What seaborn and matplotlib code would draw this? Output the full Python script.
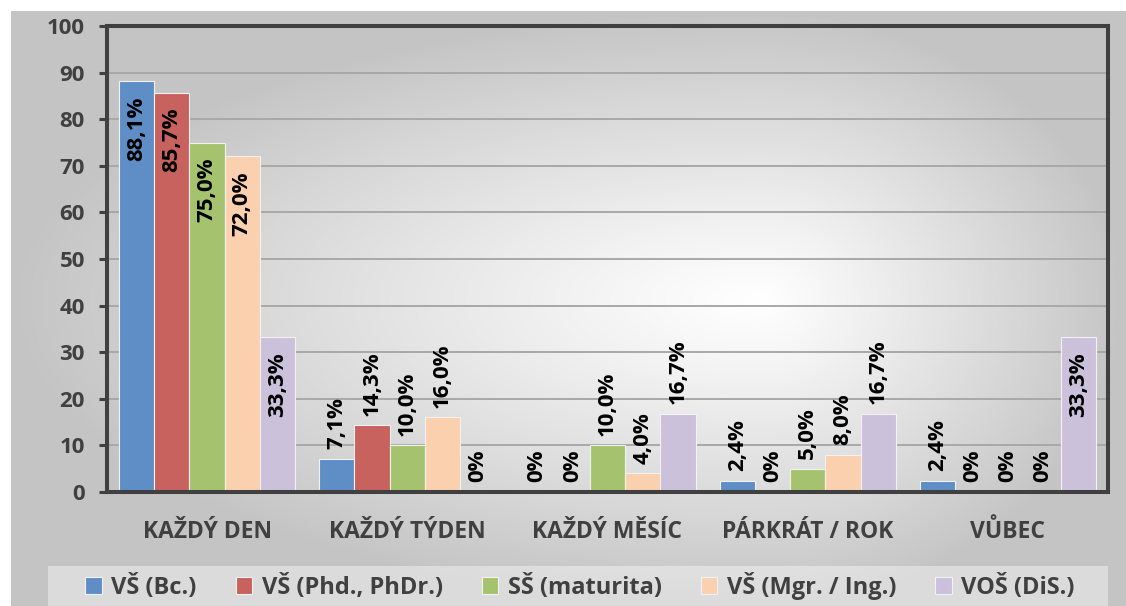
import numpy as np
import pandas as pd
import matplotlib
matplotlib.use("Agg")
import matplotlib.pyplot as plt
from matplotlib.patches import Patch, Rectangle
import seaborn as sns

categories = ["KAŽDÝ DEN", "KAŽDÝ TÝDEN", "KAŽDÝ MĚSÍC", "PÁRKRÁT / ROK", "VŮBEC"]
series = ["VŠ (Bc.)", "VŠ (Phd., PhDr.)", "SŠ (maturita)", "VŠ (Mgr. / Ing.)", "VOŠ (DiS.)"]
vs_bc = [88.1, 7.1, 0.0, 2.4, 2.4]
vs_phd = [85.7, 14.3, 0.0, 0.0, 0.0]
ss_maturita = [75.0, 10.0, 10.0, 5.0, 0.0]
vs_mgr = [72.0, 16.0, 4.0, 8.0, 0.0]
vos_dis = [33.3, 0.0, 16.7, 16.7, 33.3]
y_ticks = [0, 10, 20, 30, 40, 50, 60, 70, 80, 90, 100]
colors = ["#5F8DC6", "#C7625E", "#A5C36E", "#FBD0AE", "#CBC1DB"]

values = [vs_bc, vs_phd, ss_maturita, vs_mgr, vos_dis]
df = pd.DataFrame({
    "cat": [c for s in series for c in categories],
    "series": [s for s in series for _ in categories],
    "val": [v for vals in values for v in vals],
})

sns.set_style("white")
FONT = ["Open Sans", "DejaVu Sans"]
plt.rcParams["font.family"] = FONT
plt.rcParams["font.weight"] = "bold"

W, H = 1126, 606
fig = plt.figure(figsize=(W / 100, H / 100), dpi=100)
fig.patch.set_facecolor("white")

# background gradient panel
bg = fig.add_axes([11 / W, 0, (W - 11) / W, (H - 11) / H], zorder=0)
nx, ny = 400, 220
xs = np.linspace(11, W, nx)
ys = np.linspace(11, H, ny)
X, Y = np.meshgrid(xs, ys)
cx, cy = 760, 300
dx = np.where(X < cx, (X - cx) / (cx - 11), (X - cx) / (W - cx))
dy = np.where(Y < cy, (Y - cy) / (cy - 11), (Y - cy) / (H - cy))
r = np.clip(np.sqrt(dx ** 2 + dy ** 2), 0, 1)
g = 1.0 - 0.23 * r ** 1.1
img = np.dstack([g, g, g])
bg.imshow(img, aspect="auto", extent=[0, 1, 0, 1], origin="upper")
bg.set_axis_off()

# legend background box
fig.patches.append(Rectangle((48 / W, 0), (1108 - 48) / W, (606 - 566) / H,
                             transform=fig.transFigure, facecolor="white",
                             alpha=0.4, edgecolor="none", zorder=1))

ax = fig.add_axes([107 / W, (H - 492) / H, (1108 - 107) / W, (492 - 26) / H], zorder=2)
ax.set_facecolor("none")

sns.barplot(data=df, x="cat", y="val", hue="series", hue_order=series,
            order=categories, palette=colors, saturation=1, width=0.88,
            errorbar=None, edgecolor="#f2f2f2", linewidth=0.8, legend=False,
            ax=ax, zorder=3)

ax.set_xlim(-0.5, len(categories) - 0.5)
ax.set_ylim(0, 100)
ax.set_yticks(y_ticks)
ax.set_xlabel("")
ax.set_ylabel("")
for yv in y_ticks[1:-1]:
    ax.axhline(yv, color="#a8a8a8", lw=1.4, zorder=1)

for sp in ax.spines.values():
    sp.set_visible(True)
    sp.set_color("#404040")
    sp.set_linewidth(2.9)
    sp.set_zorder(5)

ax.tick_params(axis="y", direction="out", length=6, width=2.2, color="#404040",
               pad=10, labelsize=16, labelcolor="#404040", left=True)
ax.tick_params(axis="x", length=0, pad=20, labelsize=16.5, labelcolor="#404040")
for lab in ax.get_xticklabels() + ax.get_yticklabels():
    lab.set_fontweight("bold")

def fmt(v):
    if v == 0:
        return "0%"
    return f"{v:.1f}%".replace(".", ",")

for cont in ax.containers:
    for p in cont.patches:
        v = p.get_height()
        xc = p.get_x() + p.get_width() / 2
        if v > 20:
            ax.annotate(fmt(v), (xc, v), xytext=(0, -11), textcoords="offset points",
                        rotation=90, ha="center", va="top", fontsize=16,
                        fontweight="bold", color="black", zorder=6)
        else:
            ax.annotate(fmt(v), (xc, v), xytext=(0, 7), textcoords="offset points",
                        rotation=90, ha="center", va="bottom", fontsize=16,
                        fontweight="bold", color="black", zorder=6)

handles = [Patch(facecolor=c, edgecolor="#f2f2f2", linewidth=0.8) for c in colors]
leg = fig.legend(handles, series, loc="center", bbox_to_anchor=(580 / W, (606 - 586) / H),
                 ncol=5, frameon=False, fontsize=17, handlelength=0.7,
                 handleheight=0.7, handletextpad=0.4, columnspacing=1.65)
for t in leg.get_texts():
    t.set_color("#404040")
    t.set_fontweight("bold")
leg.set_zorder(3)

fig.savefig("out.png", dpi=100, facecolor="white")
